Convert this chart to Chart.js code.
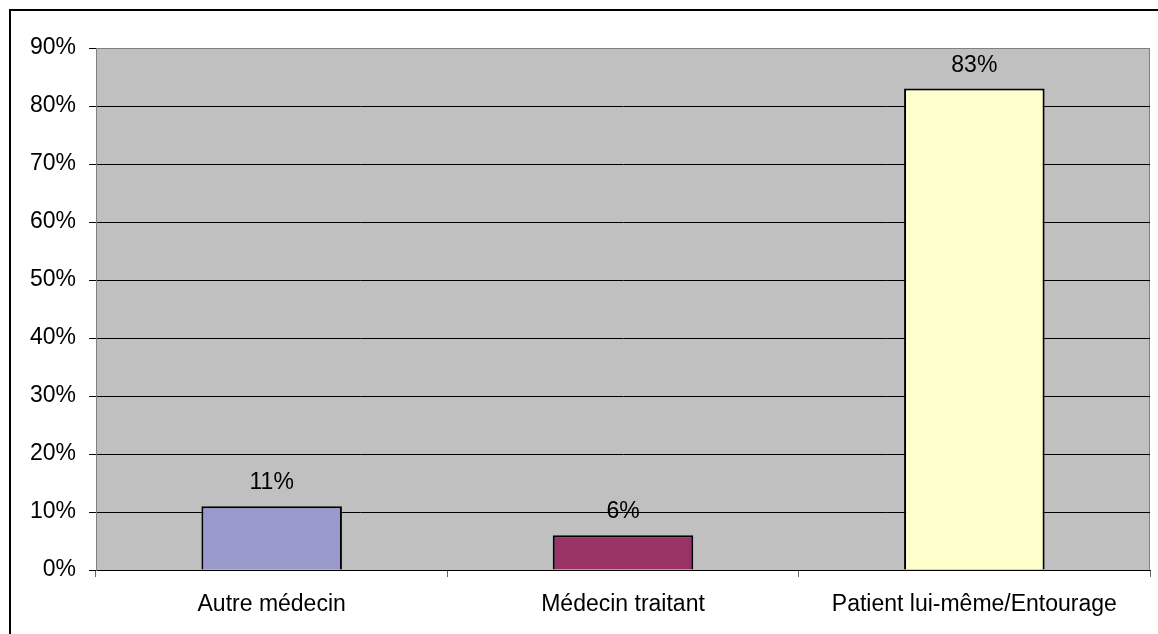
<!DOCTYPE html>
<html>
<head>
<meta charset="utf-8">
<script src="https://cdn.jsdelivr.net/npm/chart.js@4.4.1/dist/chart.umd.min.js"></script>
<style>
  html, body { margin: 0; padding: 0; background: #fff; }
  #wrap { width: 1158px; height: 634px; }
</style>
</head>
<body>
<div id="wrap"><canvas id="chart" width="1158" height="634"></canvas></div>
<script>
// ---- data ----
const categories = ['Autre médecin', 'Médecin traitant', 'Patient lui-même/Entourage'];
const values = [11, 6, 83];
const barColors = ['#9999CC', '#993366', '#FFFFCC'];
const yMax = 90;
const yStep = 10;

const FONT = 'Liberation Sans, Arial, sans-serif';

// plot background + outer frame
const frame = {
  id: 'frame',
  beforeDraw(chart) {
    const { ctx, chartArea: a } = chart;
    ctx.save();
    ctx.fillStyle = '#fff';
    ctx.fillRect(0, 0, chart.width, chart.height);
    ctx.fillStyle = '#C0C0C0';
    ctx.fillRect(a.left, a.top, a.right - a.left, a.bottom - a.top);
    // gray plot border (top / right)
    ctx.strokeStyle = '#808080';
    ctx.lineWidth = 1;
    ctx.beginPath();
    ctx.moveTo(a.left, a.top + 0.5);
    ctx.lineTo(a.right - 0.5, a.top + 0.5);
    ctx.lineTo(a.right - 0.5, a.bottom);
    ctx.stroke();
    // outer frame
    ctx.strokeStyle = '#000';
    ctx.lineWidth = 2;
    ctx.beginPath();
    ctx.moveTo(10, chart.height + 2);
    ctx.lineTo(10, 10);
    ctx.lineTo(chart.width + 2, 10);
    ctx.stroke();
    ctx.restore();
  }
};

// value labels above bars
const valueLabels = {
  id: 'valueLabels',
  afterDatasetsDraw(chart) {
    const { ctx } = chart;
    const meta = chart.getDatasetMeta(0);
    ctx.save();
    ctx.font = '23px ' + FONT;
    ctx.fillStyle = '#000';
    ctx.textAlign = 'center';
    ctx.textBaseline = 'alphabetic';
    meta.data.forEach((bar, i) => {
      ctx.fillText(values[i] + '%', bar.x, bar.y - 17);
    });
    ctx.restore();
  }
};

new Chart(document.getElementById('chart'), {
  type: 'bar',
  data: {
    labels: categories,
    datasets: [{
      data: values,
      backgroundColor: barColors,
      borderColor: '#000',
      borderWidth: 2,
      barPercentage: 0.4,
      categoryPercentage: 1
    }]
  },
  options: {
    responsive: false,
    devicePixelRatio: 1,
    animation: false,
    layout: { padding: { left: 0, top: 48, right: 8, bottom: 0 } },
    plugins: { legend: { display: false }, tooltip: { enabled: false } },
    scales: {
      x: {
        afterFit: s => { s.height = 64; },
        grid: { drawOnChartArea: false, drawTicks: true, tickLength: 7, tickColor: '#666', offset: true },
        border: { color: '#000', width: 1 },
        ticks: { color: '#000', padding: 14, maxRotation: 0, font: { family: FONT, size: 23 } }
      },
      y: {
        min: 0,
        max: yMax,
        afterFit: s => { s.width = 96; },
        grid: {
          color: ctx => (ctx.tick && ctx.tick.value === yMax ? '#808080' : '#000'),
          tickColor: '#000',
          tickLength: 7,
          lineWidth: 1
        },
        border: { color: '#808080', width: 1 },
        ticks: {
          stepSize: yStep,
          color: '#000',
          padding: 13,
          font: { family: FONT, size: 23 },
          callback: v => v + '%'
        }
      }
    }
  },
  plugins: [frame, valueLabels]
});
</script>
</body>
</html>
